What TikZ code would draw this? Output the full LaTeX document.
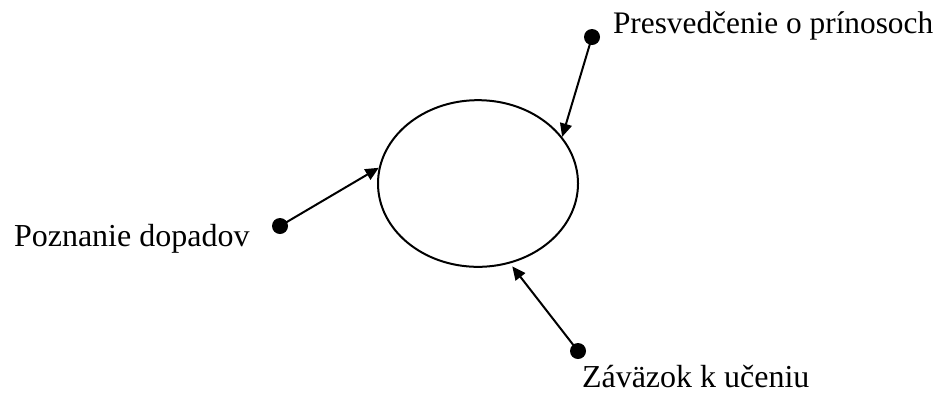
\documentclass[tikz,border=0pt]{standalone}
\usepackage{fontspec}
\setmainfont{Liberation Serif}
\usetikzlibrary{shapes.geometric,arrows.meta}

\tikzset{every picture/.style={line width=1.5pt}}
\tikzset{
  dot/.style={circle,fill=black,inner sep=0pt,minimum size=12pt},
  lbl/.style={anchor=base west,inner sep=0pt,font=\fontsize{24}{28}\selectfont},
  arr/.style={-{Triangle[length=10pt,width=9pt]}}
}

\begin{document}
\begin{tikzpicture}[x=0.75pt,y=0.75pt,yscale=-1,xscale=1]
	\useasboundingbox (0,0) rectangle (945,394);

	%Shape: Ellipse
	\node (ell) [draw,ellipse,inner sep=0pt,minimum width=150pt,minimum height=125pt] at (478,183.5) {};

	%Dots
	\node (dtop) [dot] at (592,37) {};
	\node (dleft) [dot] at (280,226) {};
	\node (dbot) [dot] at (578,351) {};

	%Straight Lines
	\draw [arr] (dtop.center) -- (ell.29);
	\draw [arr] (dleft.center) -- (ell.171);
	\draw [arr] (dbot.center) -- ([shift={(2,3)}]ell.292);

	% Text Node
	\node (tpres) [lbl,font=\fontsize{23.5}{28}\selectfont] at (612,33) {Presvedčenie o prínosoch};
	% Text Node
	\node (tpozn) [lbl] at (13,246) {Poznanie dopadov};
	% Text Node
	\node (tzav) [lbl] at (581,387) {Záväzok k učeniu};

\end{tikzpicture}
\end{document}
